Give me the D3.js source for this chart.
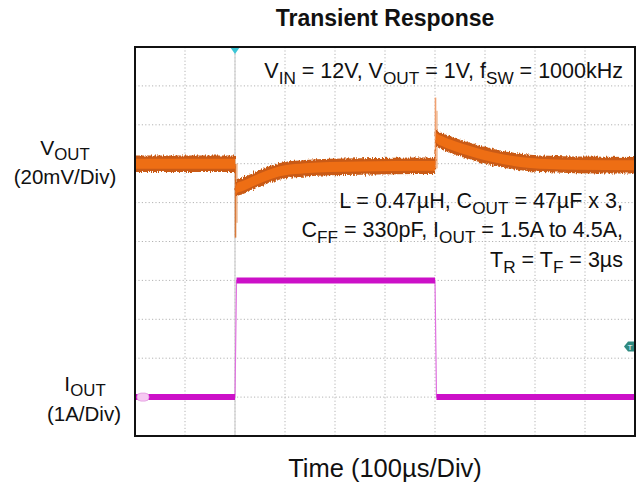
<!DOCTYPE html>
<html>
<head>
<meta charset="utf-8">
<script src="https://cdn.jsdelivr.net/npm/d3@7"></script>
<style>
  html, body { margin: 0; padding: 0; background: #fff; }
  svg { display: block; font-family: "Liberation Sans", Arial, sans-serif; }
</style>
</head>
<body>
<svg id="chart" width="638" height="489"></svg>
<script>
// ---------- data ----------
// time axis: 100 µs / div, 10 divisions
const timeDivTicks = [0, 100, 200, 300, 400, 500, 600, 700, 800, 900, 1000];
// vertical divisions (10)
const vertDivTicks = [0, 1, 2, 3, 4, 5, 6, 7, 8, 9, 10];

// VOUT deviation (mV, 20 mV/div) – centre of the noisy band
const voutT  = [0, 200, 202, 204, 215, 230, 250, 275, 300, 340, 390, 450, 520, 600, 602, 604, 615, 640, 670, 700, 730, 760, 790, 830, 880, 1000];
const voutMv = [0, 0, -14, -12.5, -11.5, -9.8, -7.5, -5, -3.4, -2.3, -1.7, -1.4, -1.2, -1.1, 13.5, 13, 11.5, 9, 6.5, 4.3, 2.6, 1.3, 0.4, -0.2, -0.6, -0.8];
const voutRipple = 8.5; // mV peak-to-peak band
// VOUT switching spikes (thin)
const spikeT   = [200, 600];
const spikeMin = [-38, -3];
const spikeMax = [0, 34];

// IOUT (A, 1 A/div)
const ioutT = [0, 200, 203, 600, 603, 1000];
const ioutA = [1.5, 1.5, 4.5, 4.5, 1.5, 1.5];

const titleText = "Transient Response";
const xLabel = "Time (100\u00B5s/Div)";

// ---------- layout ----------
const svg = d3.select("#chart");
const L = 135, R = 635, T = 47, B = 436;

const x = d3.scaleLinear().domain([0, 1000]).range([L, R]);
const yDiv = d3.scaleLinear().domain([0, 10]).range([B, T]);
const yV = d3.scaleLinear().domain([-140, 60]).range([B, T]);   // 20 mV/div
const yI = d3.scaleLinear().domain([0.5, 10.5]).range([B, T]);  // 1 A/div

const defs = svg.append("defs");
const f = defs.append("filter").attr("id", "rough")
  .attr("x", "-2%").attr("y", "-30%").attr("width", "104%").attr("height", "160%");
f.append("feTurbulence").attr("type", "fractalNoise").attr("baseFrequency", "0.9 0.2")
  .attr("numOctaves", 2).attr("seed", 4).attr("result", "n");
f.append("feDisplacementMap").attr("in", "SourceGraphic").attr("in2", "n")
  .attr("scale", 5).attr("xChannelSelector", "R").attr("yChannelSelector", "G");

// grid
const grid = svg.append("g");
grid.selectAll("line.v").data(timeDivTicks.slice(1, -1)).join("line")
  .attr("x1", d => x(d)).attr("x2", d => x(d)).attr("y1", T).attr("y2", B)
  .attr("stroke", "#b4b4b4").attr("stroke-width", 1).attr("stroke-dasharray", "1.2,2.2");
grid.selectAll("line.h").data(vertDivTicks.slice(1, -1)).join("line")
  .attr("x1", L).attr("x2", R).attr("y1", d => yDiv(d)).attr("y2", d => yDiv(d))
  .attr("stroke", "#b4b4b4").attr("stroke-width", 1).attr("stroke-dasharray", "1.2,2.2");
// trigger position line
grid.append("line").attr("x1", x(200)).attr("x2", x(200)).attr("y1", T).attr("y2", B)
  .attr("stroke", "#cfcfcf").attr("stroke-width", 1.2);

// VOUT band
const vData = voutT.map((t, i) => ({ t, v: voutMv[i] }));
const areaOuter = d3.area().x(d => x(d.t))
  .y0(d => yV(d.v - voutRipple / 2)).y1(d => yV(d.v + voutRipple / 2))
  .curve(d3.curveMonotoneX);
const areaInner = d3.area().x(d => x(d.t))
  .y0(d => yV(d.v - voutRipple * 0.3)).y1(d => yV(d.v + voutRipple * 0.3))
  .curve(d3.curveMonotoneX);
const vg = svg.append("g");
// spikes
spikeT.forEach((t, i) => {
  vg.append("line").attr("x1", x(t) + 0.5).attr("x2", x(t) + 0.5)
    .attr("y1", yV(spikeMin[i])).attr("y2", yV(spikeMax[i]))
    .attr("stroke", i === 0 ? "#d87a3a" : "#f0a070").attr("stroke-width", 1.6);
  vg.append("line").attr("x1", x(t) + 2).attr("x2", x(t) + 2)
    .attr("y1", yV(spikeMin[i] * 0.8)).attr("y2", yV(spikeMax[i] * 0.8))
    .attr("stroke", "#e07a30").attr("stroke-width", 1).attr("opacity", 0.7);
});
vg.append("path").datum(vData).attr("d", areaOuter)
  .attr("fill", "#c95a12").attr("filter", "url(#rough)");
vg.append("path").datum(vData).attr("d", areaInner)
  .attr("fill", "#ee6e14");

// IOUT trace
const iData = ioutT.map((t, i) => ({ t, a: ioutA[i] }));
const ig = svg.append("g");
ig.append("path").datum(iData)
  .attr("d", d3.line().x(d => x(d.t)).y(d => yI(d.a)))
  .attr("fill", "none").attr("stroke", "#e070e0").attr("stroke-width", 1.2);
for (let i = 0; i < iData.length - 1; i++) {
  if (iData[i].a === iData[i + 1].a) {
    ig.append("line").attr("x1", x(iData[i].t)).attr("x2", x(iData[i + 1].t))
      .attr("y1", yI(iData[i].a)).attr("y2", yI(iData[i].a))
      .attr("stroke", "#cc10c8").attr("stroke-width", 6);
  }
}

// markers
svg.append("path")
  .attr("d", `M${x(200) - 5},${T} L${x(200) + 5},${T} L${x(200)},${T + 7} Z`)
  .attr("fill", "#3cc6d6");
const tmY = yDiv(2.3);
svg.append("path")
  .attr("d", `M${R - 11},${tmY} L${R - 7},${tmY - 5} L${R},${tmY - 5} L${R},${tmY + 5} L${R - 7},${tmY + 5} Z`)
  .attr("fill", "#2f8a80");
svg.append("text").attr("x", R - 5).attr("y", tmY + 3.5).attr("text-anchor", "middle")
  .attr("font-size", 8).attr("fill", "#fff").text("T");
svg.append("rect").attr("x", L + 2).attr("y", yI(1.5) - 4).attr("width", 12).attr("height", 8)
  .attr("rx", 4).attr("fill", "#f6c8f2").attr("stroke", "#e29ae0").attr("stroke-width", 0.8);

// frame
svg.append("rect").attr("x", L).attr("y", T).attr("width", R - L).attr("height", B - T)
  .attr("fill", "none").attr("stroke", "#111").attr("stroke-width", 2);

// ---------- text ----------
function richText(g, xPos, yPos, parts, size, anchor, subShift) {
  const sh = subShift == null ? 0.28 : subShift;
  const t = g.append("text").attr("x", xPos).attr("y", yPos)
    .attr("font-size", size).attr("text-anchor", anchor).attr("fill", "#111");
  let sub = false;
  parts.forEach(([s, isSub]) => {
    const sp = t.append("tspan").text(s);
    if (isSub && !sub) { sp.attr("dy", size * sh).attr("font-size", size * 0.8); sub = true; }
    else if (isSub) { sp.attr("font-size", size * 0.8); }
    else if (!isSub && sub) { sp.attr("dy", -size * sh); sub = false; }
  });
  return t;
}

svg.append("text").attr("x", 385).attr("y", 26).attr("text-anchor", "middle")
  .attr("font-size", 23).attr("font-weight", "bold").attr("fill", "#111").text(titleText);

const tg = svg.append("g");
richText(tg, 623, 78, [["V", 0], ["IN", 1], [" = 12V, V", 0], ["OUT", 1], [" = 1V, f", 0], ["SW", 1], [" = 1000kHz", 0]], 21.5, "end");
richText(tg, 623, 208, [["L = 0.47\u00B5H, C", 0], ["OUT", 1], [" = 47\u00B5F x 3,", 0]], 21.5, "end");
richText(tg, 623, 237, [["C", 0], ["FF", 1], [" = 330pF, I", 0], ["OUT", 1], [" = 1.5A to 4.5A,", 0]], 21.5, "end");
richText(tg, 623, 267, [["T", 0], ["R", 1], [" = T", 0], ["F", 1], [" = 3\u00B5s", 0]], 21.5, "end");

richText(tg, 65, 155, [["V", 0], ["OUT", 1]], 21, "middle", 0.24);
tg.append("text").attr("x", 65).attr("y", 184).attr("text-anchor", "middle")
  .attr("font-size", 20.5).attr("fill", "#111").text("(20mV/Div)");
richText(tg, 85, 391, [["I", 0], ["OUT", 1]], 21, "middle", 0.24);
tg.append("text").attr("x", 84).attr("y", 421).attr("text-anchor", "middle")
  .attr("font-size", 20.5).attr("fill", "#111").text("(1A/Div)");

svg.append("text").attr("x", 385).attr("y", 477).attr("text-anchor", "middle")
  .attr("font-size", 25.5).attr("fill", "#111").text(xLabel);
</script>
</body>
</html>
